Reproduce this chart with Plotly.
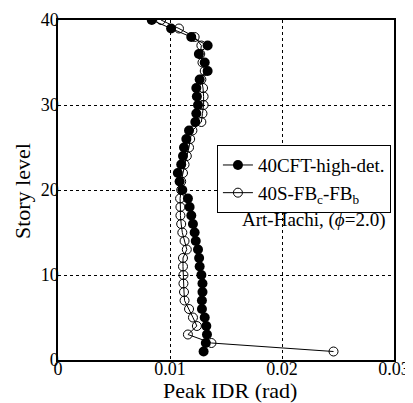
import plotly.graph_objects as go

levels = list(range(1, 41))

cft_high_det = [
    0.0130, 0.0132, 0.0133, 0.01324, 0.0131, 0.01285, 0.01285, 0.0129, 0.0129, 0.0128,
    0.01265, 0.0126, 0.0125, 0.0123, 0.0122, 0.01205, 0.0119, 0.01175, 0.0116, 0.0111,
    0.01086, 0.0107, 0.0110, 0.01116, 0.01125, 0.01146, 0.0117, 0.01226, 0.01235, 0.0125,
    0.0124, 0.01235, 0.01265, 0.01336, 0.0131, 0.01258, 0.01336, 0.0119, 0.0101, 0.00837,
]

s_fb = [
    0.0246, 0.0137, 0.0116, 0.0124, 0.01205, 0.0117, 0.0113, 0.01125, 0.0112, 0.0112,
    0.01116, 0.01116, 0.0115, 0.0113, 0.0111, 0.0110, 0.01093, 0.01093, 0.0109, 0.0110,
    0.0110, 0.01116, 0.0113, 0.0115, 0.0117, 0.0118, 0.0120, 0.0128, 0.0129, 0.0130,
    0.0130, 0.01295, 0.0128, 0.0131, 0.0129, 0.0127, 0.0128, 0.0122, 0.0108, 0.0092,
]

x_ticks = [0, 0.01, 0.02, 0.03]
x_tick_labels = ["0", "0.01", "0.02", "0.03"]
y_ticks = [0, 10, 20, 30, 40]
y_tick_labels = ["0", "10", "20", "30", "40"]

FONT = "Times New Roman"

fig = go.Figure()
fig.add_trace(go.Scatter(
    x=cft_high_det, y=levels, mode="lines+markers",
    name="40CFT-high-det.",
    line=dict(color="black", width=1),
    marker=dict(symbol="circle", size=10, color="black"),
))
fig.add_trace(go.Scatter(
    x=s_fb, y=levels, mode="lines+markers",
    name="40S-FB<sub>c</sub>-FB<sub>b</sub>",
    line=dict(color="black", width=1),
    marker=dict(symbol="circle-open", size=9, color="black", line=dict(width=1)),
))

fig.add_annotation(
    x=0.982, y=0.412, xref="paper", yref="paper",
    text="Art-Hachi, (<i>ϕ</i>=2.0)", showarrow=False,
    xanchor="right", yanchor="middle",
    font=dict(family=FONT, size=19, color="black"),
)
# axis titles
fig.add_annotation(
    x=0.512, y=-0.09, xref="paper", yref="paper",
    text="Peak IDR (rad)", showarrow=False,
    xanchor="center", yanchor="middle",
    font=dict(family=FONT, size=22, color="black"),
)
fig.add_annotation(
    x=-0.107, y=0.497, xref="paper", yref="paper",
    text="Story level", showarrow=False, textangle=-90,
    xanchor="center", yanchor="middle",
    font=dict(family=FONT, size=22, color="black"),
)

axis_common = dict(
    showline=True, linecolor="black", linewidth=1.5, mirror=True,
    showgrid=True, gridcolor="black", gridwidth=1, griddash="dot",
    zeroline=False, ticks="", ticklen=0, automargin=False,
    tickfont=dict(family=FONT, size=18, color="black"),
)

fig.update_xaxes(
    range=[0, 0.03], tickvals=x_ticks, ticktext=x_tick_labels,
    ticklabelstandoff=-8, **axis_common,
)
fig.update_yaxes(
    range=[0, 40], tickvals=y_ticks, ticktext=y_tick_labels,
    ticklabelstandoff=-6, **axis_common,
)

fig.update_layout(
    width=405, height=395,
    margin=dict(l=50, r=19, t=12, b=43),
    paper_bgcolor="white", plot_bgcolor="white",
    font=dict(family=FONT, color="black"),
    legend=dict(
        x=0.473, y=0.632, xanchor="left", yanchor="top",
        bgcolor="white", bordercolor="black", borderwidth=1,
        font=dict(family=FONT, size=19, color="black"),
        tracegroupgap=0, itemwidth=30,
    ),
    showlegend=True,
)

fig.write_html("out.html")
